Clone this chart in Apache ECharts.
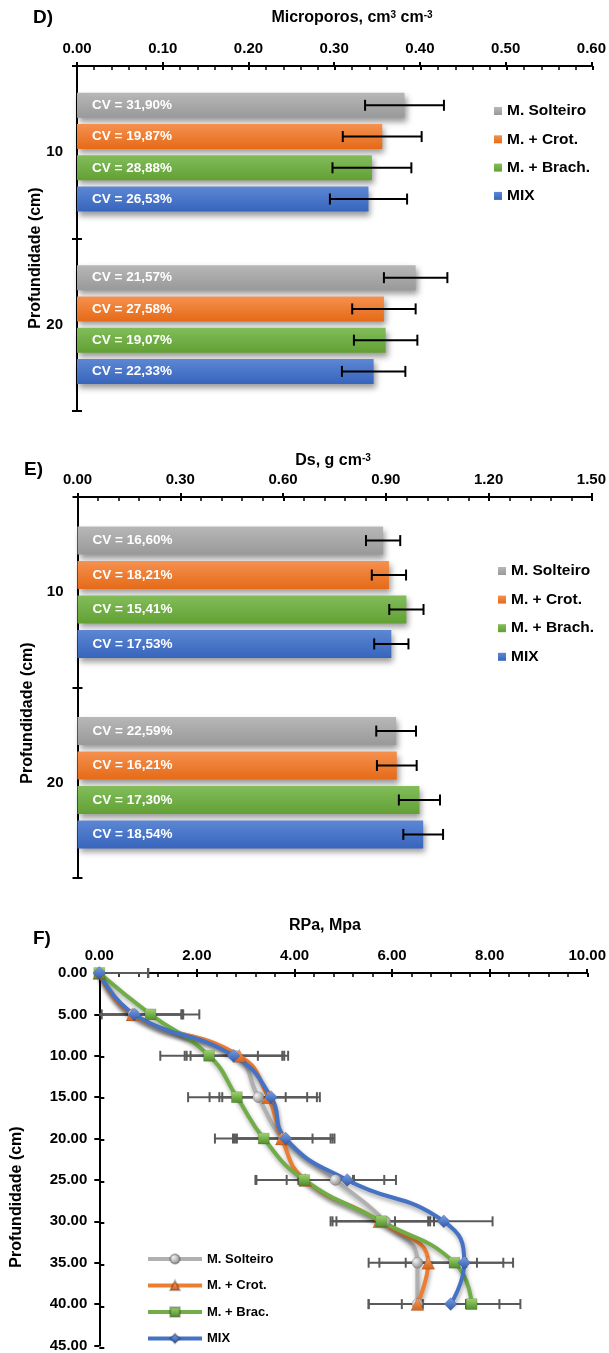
<!DOCTYPE html>
<html><head><meta charset="utf-8">
<script src="https://cdn.jsdelivr.net/npm/echarts@6/dist/echarts.min.js"></script>
<style>html,body{margin:0;padding:0;background:#fff}#c{width:609px;height:1353px}</style>
</head><body><div id="c"></div>
<script>
// ---------- DATA ----------
const barNames = ['M. Solteiro', 'M. + Crot.', 'M. + Brach.', 'MIX'];
const rpaNames = ['M. Solteiro ', 'M. + Crot. ', 'M. + Brac.', 'MIX '];
const depthCategories = ['10', '20'];

// D) Microporos, cm3 cm-3
const microSolteiro = [0.382, 0.395];
const microCrot     = [0.356, 0.358];
const microBrach    = [0.344, 0.360];
const microMix      = [0.340, 0.346];
const microSdSolteiro = [0.046, 0.037];
const microSdCrot     = [0.046, 0.037];
const microSdBrach    = [0.046, 0.037];
const microSdMix      = [0.045, 0.037];
const microCvSolteiro = ['31,90', '21,57'];
const microCvCrot     = ['19,87', '27,58'];
const microCvBrach    = ['28,88', '19,07'];
const microCvMix      = ['26,53', '22,33'];
const microTicks = {min: 0, max: 0.6, interval: 0.1};

// E) Ds, g cm-3
const dsSolteiro = [0.892, 0.930];
const dsCrot     = [0.909, 0.932];
const dsBrach    = [0.960, 0.998];
const dsMix      = [0.916, 1.009];
const dsSdSolteiro = [0.050, 0.058];
const dsSdCrot     = [0.050, 0.058];
const dsSdBrach    = [0.050, 0.060];
const dsSdMix      = [0.050, 0.058];
const dsCvSolteiro = ['16,60', '22,59'];
const dsCvCrot     = ['18,21', '16,21'];
const dsCvBrach    = ['15,41', '17,30'];
const dsCvMix      = ['17,53', '18,54'];
const dsTicks = {min: 0, max: 1.5, interval: 0.3};

// F) RPa, Mpa
const rpaDepths   = [0, 5, 10, 15, 20, 25, 30, 35, 40];
const rpaSolteiro = [0, 0.70, 2.79, 3.26, 3.78, 4.84, 5.86, 6.52, 6.52];
const rpaCrot     = [0, 0.68, 2.87, 3.46, 3.74, 4.22, 5.74, 6.74, 6.52];
const rpaBrac     = [0, 1.05, 2.25, 2.82, 3.37, 4.20, 5.78, 7.28, 7.63];
const rpaMix      = [0, 0.72, 2.75, 3.52, 3.82, 5.08, 7.06, 7.48, 7.20];
const rpaErrSolteiro = [1.00, 1.00, 1.00, 1.00, 1.00, 1.00, 1.00, 1.00, 1.00];
const rpaErrCrot     = [1.00, 1.00, 1.00, 1.00, 1.00, 1.00, 1.00, 1.00, 1.00];
const rpaErrBrac     = [1.00, 1.00, 1.00, 1.00, 1.00, 1.00, 1.00, 1.00, 1.00];
const rpaErrMix      = [1.00, 1.00, 1.00, 1.00, 1.00, 1.00, 1.00, 1.00, 1.00];
const rpaTicks   = {min: 0, max: 10, interval: 2};
const depthTicks = {min: 0, max: 45, interval: 5};

// ---------- STYLE ----------
const FONT = 'Liberation Sans';
const G = echarts.graphic;
const barGrad = [
  ['#b7b7b7', '#999999'],
  ['#f5914f', '#e56a17'],
  ['#82bd5a', '#62a034'],
  ['#5d87d3', '#3765bd']
];
const lineColors = ['#b0b0b0', '#ed7d31', '#70ad47', '#4472c4'];
const markerFills = [
  new G.RadialGradient(0.35, 0.35, 0.75, [{offset: 0, color: '#f2f2f2'}, {offset: 1, color: '#7f7f7f'}]),
  new G.LinearGradient(0, 0, 0, 1, [{offset: 0, color: '#f7a064'}, {offset: 1, color: '#d4621a'}]),
  new G.LinearGradient(0, 0, 0, 1, [{offset: 0, color: '#9fd46e'}, {offset: 1, color: '#4e8c2a'}]),
  new G.LinearGradient(0, 0, 0, 1, [{offset: 0, color: '#7aa0e6'}, {offset: 1, color: '#2f58a8'}])
];
const symbols = ['circle', 'triangle', 'rect', 'diamond'];
const symbolSizes = [11, 13, 11, 13];

const gridD = {left: 77, top: 66, width: 516, height: 344.7};
const gridE = {left: 77.5, top: 497, width: 514.5, height: 381};
const gridF = {left: 99.3, top: 973, width: 488, height: 375};

const axisColor = '#000';
const labelStyle = {fontSize: 15, fontWeight: 'bold', color: '#000', fontFamily: FONT};

function mainX(gi, t) {
  return {type: 'value', gridIndex: gi, position: 'top', min: t.min, max: t.max, interval: t.interval,
    axisLine: {show: true, lineStyle: {color: axisColor, width: 2}},
    axisTick: {show: true, inside: false, length: 4, lineStyle: {color: axisColor, width: 2}},
    minorTick: {show: false}, splitLine: {show: false}, minorSplitLine: {show: false},
    axisLabel: Object.assign({show: true, margin: 10, formatter: v => v.toFixed(2)}, labelStyle)};
}
function innerX(gi, t) {
  return {type: 'value', gridIndex: gi, position: 'top', min: t.min, max: t.max, interval: t.interval,
    axisLine: {show: false},
    axisTick: {show: true, inside: true, length: 4, lineStyle: {color: axisColor, width: 2}},
    minorTick: {show: true, splitNumber: 5, length: 4, lineStyle: {color: axisColor, width: 1.5}},
    splitLine: {show: false}, axisLabel: {show: false}};
}
function mainYCat(gi) {
  return {type: 'category', gridIndex: gi, data: depthCategories, inverse: true, position: 'left',
    axisLine: {show: true, lineStyle: {color: axisColor, width: 2}},
    axisTick: {show: true, inside: false, length: 5, lineStyle: {color: axisColor, width: 2}},
    axisLabel: Object.assign({margin: 14}, labelStyle)};
}
function innerYCat(gi) {
  return {type: 'category', gridIndex: gi, data: depthCategories, inverse: true, position: 'left',
    axisLine: {show: false},
    axisTick: {show: true, inside: true, length: 5, lineStyle: {color: axisColor, width: 2}},
    axisLabel: {show: false}};
}

function barErr(i, barW, gap, n) {
  return function (params, api) {
    const v = api.value(0), k = api.value(1), sd = api.value(2);
    const c = api.coord([v, k]);
    const pitch = barW * (1 + gap);
    const total = n * barW + (n - 1) * barW * gap;
    const yc = c[1] - total / 2 + i * pitch + barW / 2;
    const x1 = api.coord([v - sd, k])[0], x2 = api.coord([v + sd, k])[0];
    const h = 5.5;
    const st = {stroke: '#000', lineWidth: 2};
    return {type: 'group', children: [
      {type: 'line', shape: {x1: x1, y1: yc, x2: x2, y2: yc}, style: st},
      {type: 'line', shape: {x1: x1, y1: yc - h, x2: x1, y2: yc + h}, style: st},
      {type: 'line', shape: {x1: x2, y1: yc - h, x2: x2, y2: yc + h}, style: st}
    ]};
  };
}
function rpaErr(params, api) {
  const x = api.value(0), d = api.value(1), e = api.value(2);
  const lo = x - e, hi = x + e;
  const loC = Math.max(lo, rpaTicks.min);
  const p1 = api.coord([loC, d]), p2 = api.coord([hi, d]);
  const h = 5;
  const st = {stroke: '#5a5a5a', lineWidth: 2};
  const ch = [
    {type: 'line', shape: {x1: p1[0], y1: p1[1], x2: p2[0], y2: p2[1]}, style: st},
    {type: 'line', shape: {x1: p2[0], y1: p2[1] - h, x2: p2[0], y2: p2[1] + h}, style: st}
  ];
  if (lo >= rpaTicks.min) ch.push({type: 'line', shape: {x1: p1[0], y1: p1[1] - h, x2: p1[0], y2: p1[1] + h}, style: st});
  return {type: 'group', children: ch};
}

const microVals = [microSolteiro, microCrot, microBrach, microMix];
const microSds = [microSdSolteiro, microSdCrot, microSdBrach, microSdMix];
const microCvs = [microCvSolteiro, microCvCrot, microCvBrach, microCvMix];
const dsVals = [dsSolteiro, dsCrot, dsBrach, dsMix];
const dsSds = [dsSdSolteiro, dsSdCrot, dsSdBrach, dsSdMix];
const dsCvs = [dsCvSolteiro, dsCvCrot, dsCvBrach, dsCvMix];
const rpaVals = [rpaSolteiro, rpaCrot, rpaBrac, rpaMix];
const rpaErrs = [rpaErrSolteiro, rpaErrCrot, rpaErrBrac, rpaErrMix];

const series = [];
function addBars(vals, sds, cvs, axisIdx, barW, gap) {
  vals.forEach((arr, i) => {
    series.push({
      type: 'bar', name: barNames[i], xAxisIndex: axisIdx, yAxisIndex: axisIdx,
      data: arr, barWidth: barW, barGap: (gap * 100) + '%',
      itemStyle: {
        color: new G.LinearGradient(0, 0, 0, 1, [{offset: 0, color: barGrad[i][0]}, {offset: 1, color: barGrad[i][1]}]),
        shadowBlur: 6, shadowColor: 'rgba(0,0,0,0.4)', shadowOffsetX: 2, shadowOffsetY: 4
      },
      label: {show: true, position: 'insideLeft', distance: 15, color: '#fff', fontWeight: 'bold',
        fontSize: 13.5, fontFamily: FONT, formatter: p => 'CV = ' + cvs[i][p.dataIndex] + '%'},
      z: 2
    });
  });
  vals.forEach((arr, i) => {
    series.push({
      type: 'custom', xAxisIndex: axisIdx, yAxisIndex: axisIdx, silent: true, z: 5,
      encode: {x: 0, y: 1},
      data: arr.map((v, k) => [v, k, sds[i][k]]),
      renderItem: barErr(i, barW, gap, vals.length)
    });
  });
}
addBars(microVals, microSds, microCvs, 0, 25, 0.25);
addBars(dsVals, dsSds, dsCvs, 2, 28, 0.23);

rpaVals.forEach((arr, i) => {
  series.push({
    type: 'custom', xAxisIndex: 4, yAxisIndex: 4, silent: true, z: 2,
    encode: {x: 0, y: 1},
    data: rpaDepths.map((d, k) => [arr[k], d, rpaErrs[i][k]]),
    renderItem: rpaErr
  });
});
rpaVals.forEach((arr, i) => {
  series.push({
    type: 'line', name: rpaNames[i], xAxisIndex: 4, yAxisIndex: 4, z: 3,
    data: rpaDepths.map((d, k) => [arr[k], d]),
    smooth: 0.5, symbol: symbols[i], symbolSize: symbolSizes[i], showAllSymbol: true,
    lineStyle: {color: lineColors[i], width: 4, shadowBlur: 4, shadowColor: 'rgba(0,0,0,0.35)', shadowOffsetX: 1, shadowOffsetY: 3},
    itemStyle: {color: markerFills[i], borderColor: 'rgba(0,0,0,0.25)', borderWidth: 0.5}
  });
});

const legendText = {fontSize: 15.5, fontWeight: 'bold', color: '#000', fontFamily: FONT, lineHeight: 16};

const option = {
  animation: false,
  backgroundColor: '#fff',
  textStyle: {fontFamily: FONT},
  grid: [gridD, gridD, gridE, gridE, gridF, gridF],
  xAxis: [mainX(0, microTicks), innerX(1, microTicks), mainX(2, dsTicks), innerX(3, dsTicks), mainX(4, rpaTicks), innerX(5, rpaTicks)],
  yAxis: [
    mainYCat(0), innerYCat(1), mainYCat(2), innerYCat(3),
    {type: 'value', gridIndex: 4, inverse: true, position: 'left', min: depthTicks.min, max: depthTicks.max, interval: depthTicks.interval,
      axisLine: {show: true, lineStyle: {color: axisColor, width: 2}},
      axisTick: {show: true, inside: false, length: 5, lineStyle: {color: axisColor, width: 2}},
      splitLine: {show: false},
      axisLabel: Object.assign({margin: 12, formatter: v => v.toFixed(2)}, labelStyle)},
    {type: 'value', gridIndex: 5, inverse: true, position: 'left', min: depthTicks.min, max: depthTicks.max, interval: depthTicks.interval,
      axisLine: {show: false},
      axisTick: {show: true, inside: true, length: 5, lineStyle: {color: axisColor, width: 2}},
      splitLine: {show: false}, axisLabel: {show: false}}
  ],
  legend: [
    {orient: 'vertical', left: 489, top: 98, height: 130, itemWidth: 8, itemHeight: 8, itemGap: 12.3, icon: 'rect',
      data: barNames, textStyle: legendText, selectedMode: false},
    {orient: 'vertical', left: 493, top: 558, height: 130, itemWidth: 8, itemHeight: 8, itemGap: 12.6, icon: 'rect',
      data: barNames, textStyle: legendText, selectedMode: false},
    {orient: 'vertical', left: 141, top: 1247, height: 200, itemWidth: 54, itemHeight: 12, itemGap: 12.5,
      data: rpaNames, selectedMode: false, lineStyle: {width: 4, shadowBlur: 0},
      textStyle: {fontSize: 13, fontWeight: 'bold', color: '#000', fontFamily: FONT, lineHeight: 14}}
  ],
  graphic: [
    {type: 'text', x: 33, y: 18, style: {text: 'D)', fontSize: 19, fontWeight: 'bold', fontFamily: FONT, fill: '#000', align: 'left', verticalAlign: 'middle'}},
    {type: 'text', x: 24, y: 470, style: {text: 'E)', fontSize: 19, fontWeight: 'bold', fontFamily: FONT, fill: '#000', align: 'left', verticalAlign: 'middle'}},
    {type: 'text', x: 33, y: 939, style: {text: 'F)', fontSize: 19, fontWeight: 'bold', fontFamily: FONT, fill: '#000', align: 'left', verticalAlign: 'middle'}},
    {type: 'text', x: 352, y: 18, style: {text: 'Microporos, cm{s|3} cm{s|-3}', fontSize: 16, fontWeight: 'bold', fontFamily: FONT, fill: '#000', align: 'center', verticalAlign: 'middle',
      rich: {s: {fontSize: 10, fontWeight: 'bold', fontFamily: FONT, verticalAlign: 'top'}}}},
    {type: 'text', x: 333, y: 461, style: {text: 'Ds, g cm{s|-3}', fontSize: 16, fontWeight: 'bold', fontFamily: FONT, fill: '#000', align: 'center', verticalAlign: 'middle',
      rich: {s: {fontSize: 10, fontWeight: 'bold', fontFamily: FONT, verticalAlign: 'top'}}}},
    {type: 'text', x: 325, y: 926, style: {text: 'RPa, Mpa', fontSize: 16, fontWeight: 'bold', fontFamily: FONT, fill: '#000', align: 'center', verticalAlign: 'middle'}},
    {type: 'text', x: 36, y: 258, rotation: Math.PI / 2, style: {text: 'Profundidade (cm)', fontSize: 16, fontWeight: 'bold', fontFamily: FONT, fill: '#000', align: 'center', verticalAlign: 'middle'}},
    {type: 'text', x: 28, y: 713, rotation: Math.PI / 2, style: {text: 'Profundidade (cm)', fontSize: 16, fontWeight: 'bold', fontFamily: FONT, fill: '#000', align: 'center', verticalAlign: 'middle'}},
    {type: 'text', x: 17, y: 1197, rotation: Math.PI / 2, style: {text: 'Profundidade (cm)', fontSize: 16, fontWeight: 'bold', fontFamily: FONT, fill: '#000', align: 'center', verticalAlign: 'middle'}}
  ],
  series: series
};

const chart = echarts.init(document.getElementById('c'), null, {renderer: 'canvas', width: 609, height: 1353});
chart.setOption(option);
</script>
</body></html>
